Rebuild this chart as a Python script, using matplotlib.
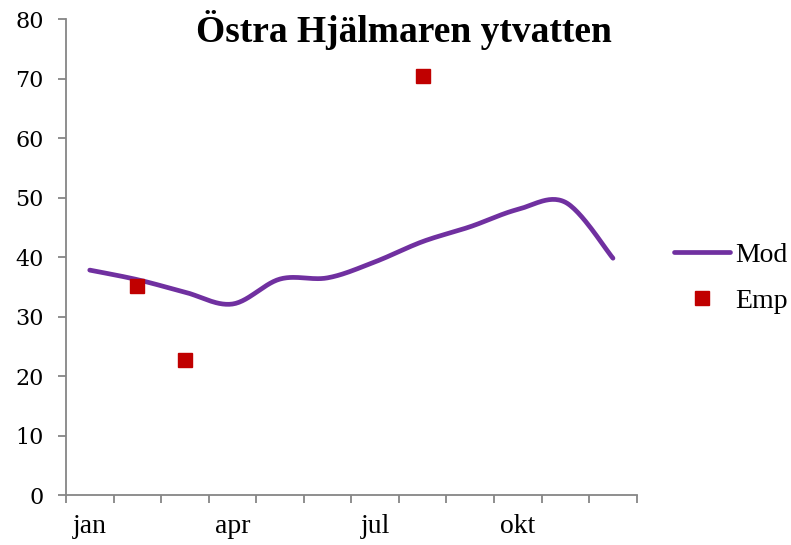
import matplotlib.pyplot as plt
import numpy as np

months = ["jan", "feb", "mar", "apr", "maj", "jun", "jul", "aug", "sep", "okt", "nov", "dec"]
tick_labels = ["jan", "", "", "apr", "", "", "jul", "", "", "okt", "", ""]
mod = [37.8, 36.2, 34.1, 32.1, 36.3, 36.5, 39.2, 42.6, 45.1, 48.0, 49.2, 39.8]
emp_months = ["feb", "mar", "aug"]
emp = [35.2, 22.7, 70.4]


def smooth(xs, ys, n=30):
    # excel-like smoothed line (catmull-rom as bezier)
    xs = np.asarray(xs, float)
    ys = np.asarray(ys, float)
    px = np.concatenate([[xs[0]], xs, [xs[-1]]])
    py = np.concatenate([[ys[0]], ys, [ys[-1]]])
    outx, outy = [], []
    t = np.linspace(0, 1, n)
    for i in range(1, len(px) - 2):
        p0 = np.array([px[i], py[i]])
        p3 = np.array([px[i + 1], py[i + 1]])
        c1 = p0 + (np.array([px[i + 1], py[i + 1]]) - np.array([px[i - 1], py[i - 1]])) / 6
        c2 = p3 - (np.array([px[i + 2], py[i + 2]]) - np.array([px[i], py[i]])) / 6
        b = ((1 - t) ** 3)[:, None] * p0 + (3 * (1 - t) ** 2 * t)[:, None] * c1 \
            + (3 * (1 - t) * t ** 2)[:, None] * c2 + (t ** 3)[:, None] * p3
        outx.extend(b[:, 0])
        outy.extend(b[:, 1])
    return outx, outy


plt.rcParams['font.family'] = ['Liberation Serif', 'DejaVu Serif']

fig = plt.figure(figsize=(7.91, 5.45), dpi=100)
ax = fig.add_axes([0.0834, 0.0917, 0.7216, 0.8734])

x = np.arange(len(months))
sx, sy = smooth(x, mod)
ax.plot(sx, sy, color="#7030A0", lw=3.4, solid_capstyle="round", label="Mod")
ex = [months.index(m) for m in emp_months]
ax.plot(ex, emp, "s", color="#C00000", ms=10, label="Emp")

ax.set_xlim(-0.5, 11.5)
ax.set_ylim(0, 80)
ax.set_yticks(range(0, 81, 10))
for lab in ax.get_yticklabels():
    lab.set_family("DejaVu Serif")
ax.set_xticks(np.arange(-0.5, 12, 1))
ax.set_xticklabels([])
ax.set_xticks(x, minor=True)
ax.set_xticklabels(tick_labels, minor=True)
ax.tick_params(axis="x", which="minor", length=0, labelsize=20, pad=14)
ax.tick_params(axis="x", which="major", length=6, width=1.3, color="#868686")
ax.tick_params(axis="y", length=6, width=1.3, color="#868686", labelsize=16, pad=10)

for s in ["top", "right"]:
    ax.spines[s].set_visible(False)
for s in ["left", "bottom"]:
    ax.spines[s].set_color("#868686")
    ax.spines[s].set_linewidth(1.3)

fig.text(0.511, 0.945, "Östra Hjälmaren ytvatten", ha="center", va="center",
         fontsize=27, fontweight="bold")

fig.legend(loc="center left", bbox_to_anchor=(0.838, 0.49), frameon=False,
           fontsize=20, handlelength=2.0, handletextpad=0.2, labelspacing=0.75,
           borderaxespad=0.0)

fig.savefig("out.png", dpi=100)
